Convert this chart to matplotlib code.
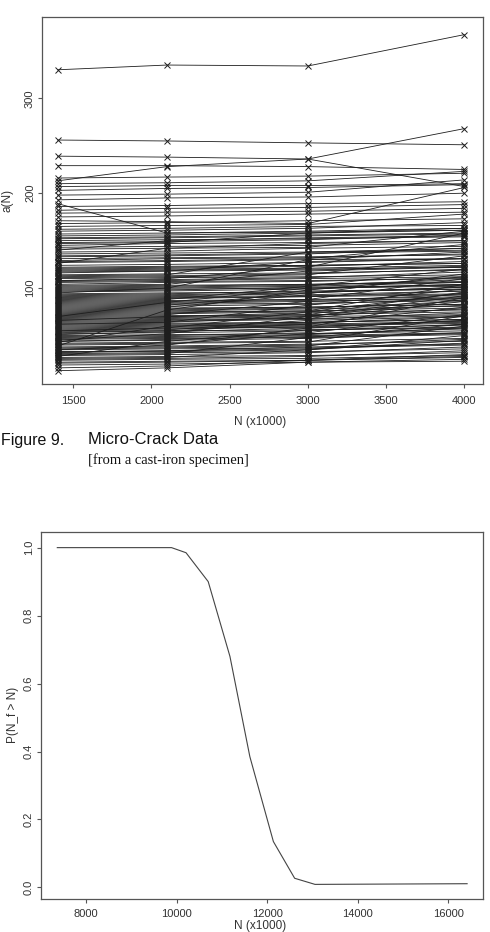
import matplotlib.pyplot as plt
import numpy as np

plt.rcParams['font.family'] = ['Liberation Sans', 'DejaVu Sans']

cycles = [1400, 2100, 3000, 4000]
a_1400 = [330, 256, 239, 229, 213, 216, 210, 207, 203, 198,
          193, 189, 186, 182, 179, 175, 171, 168, 165, 162,
          160, 157, 155, 152, 150, 148, 145, 140, 143, 138,
          136, 126, 133, 131, 129, 127, 124, 122, 120, 118,
          116, 114, 112, 110, 108, 106, 104, 102, 100, 98,
          96, 94, 92, 90, 88, 86, 84, 82, 80, 78,
          76, 74, 72, 70, 68, 66, 64, 62, 60, 58,
          56, 54, 52, 50, 48, 46, 44, 42, 39, 37,
          35, 33, 31, 29, 27, 25, 22, 19, 16, 13,
          30, 45, 55, 63, 35, 70, 81, 95, 108, 28,
          41, 57, 67, 73, 89, 101, 113, 119, 24, 33,
          47, 53, 61, 77, 85, 93, 99, 38, 43, 65,
          21, 26, 32, 36, 40, 44, 49, 51, 55, 59,
          62, 66, 69, 71, 75, 79, 83, 87, 91, 97,
          103, 107, 111, 117, 121, 128, 134, 141, 147, 153]
a_2100 = [335, 255, 238, 229, 228, 217, 211, 208, 205, 199,
          195, 158, 187, 184, 180, 176, 170, 169, 166, 163,
          161, 158, 156, 153, 151, 149, 147, 150, 144, 139,
          137, 142, 134, 132, 131, 128, 125, 123, 121, 119,
          118, 115, 113, 111, 109, 107, 106, 103, 101, 99,
          97, 95, 93, 91, 89, 87, 85, 83, 81, 79,
          77, 75, 73, 71, 69, 67, 65, 63, 61, 59,
          57, 55, 53, 51, 49, 47, 45, 43, 77, 38,
          36, 34, 32, 30, 28, 26, 23, 20, 18, 16,
          31, 52, 58, 64, 40, 85, 82, 100, 110, 44,
          42, 58, 68, 74, 90, 102, 114, 120, 25, 33,
          48, 55, 62, 78, 86, 94, 100, 39, 60, 66,
          22, 27, 34, 37, 41, 46, 50, 54, 56, 60,
          64, 70, 70, 72, 76, 80, 84, 88, 92, 98,
          104, 108, 112, 118, 122, 129, 135, 142, 148, 154]
a_3000 = [334, 253, 236, 228, 236, 218, 213, 208, 206, 201,
          196, 160, 189, 185, 181, 178, 168, 171, 167, 165,
          163, 159, 158, 155, 152, 151, 148, 153, 145, 142,
          138, 147, 136, 133, 132, 130, 127, 124, 123, 120,
          119, 116, 115, 112, 111, 108, 107, 104, 103, 100,
          99, 96, 95, 92, 91, 88, 87, 84, 83, 80,
          79, 76, 75, 72, 71, 68, 67, 64, 63, 60,
          59, 56, 55, 52, 51, 48, 47, 44, 98, 40,
          37, 36, 33, 32, 29, 28, 24, 22, 24, 22,
          48, 70, 75, 82, 58, 100, 95, 130, 122, 56,
          43, 59, 70, 76, 91, 104, 138, 121, 26, 35,
          50, 62, 64, 80, 88, 97, 102, 41, 62, 68,
          24, 35, 38, 39, 52, 49, 53, 58, 66, 61,
          70, 74, 72, 86, 78, 93, 86, 102, 94, 101,
          118, 110, 114, 128, 124, 131, 137, 143, 158, 156]
a_4000 = [367, 251, 268, 225, 207, 221, 223, 210, 209, 214,
          200, 163, 191, 188, 184, 180, 206, 173, 178, 166,
          169, 161, 163, 157, 154, 156, 150, 155, 148, 144,
          140, 150, 142, 135, 136, 131, 131, 126, 128, 122,
          123, 119, 120, 114, 117, 110, 111, 107, 109, 102,
          104, 99, 101, 94, 97, 91, 93, 87, 89, 83,
          86, 79, 82, 75, 78, 71, 74, 67, 70, 63,
          66, 59, 62, 55, 58, 51, 53, 47, 112, 46,
          40, 42, 36, 38, 32, 34, 27, 25, 28, 23,
          62, 88, 95, 99, 66, 104, 101, 138, 158, 58,
          71, 90, 72, 104, 93, 106, 142, 124, 29, 50,
          53, 80, 67, 83, 110, 99, 120, 44, 65, 86,
          30, 45, 41, 60, 57, 52, 72, 61, 70, 64,
          92, 77, 96, 90, 81, 97, 89, 106, 115, 103,
          122, 112, 134, 131, 126, 146, 139, 160, 161, 158]

# estimated survival curve P(N_f > N)
surv_N = [7366, 9890, 10210, 10700, 11180, 11620, 12140, 12610, 13060, 16420]
surv_p = [1.0, 1.0, 0.985, 0.90, 0.68, 0.385, 0.135, 0.027, 0.009, 0.011]

W, H = 490, 932
ink = '#1e1e1e'
fig = plt.figure(figsize=(W / 100, H / 100), dpi=100)


def style(ax, xpad, ypad):
    for s in ax.spines.values():
        s.set_color('#555555')
        s.set_linewidth(0.9)
    ax.tick_params(direction='out', length=3, width=0.8, color='#555555',
                   labelsize=8, labelcolor='#333333', top=False, right=False)
    ax.tick_params(axis='x', pad=xpad)
    ax.tick_params(axis='y', pad=ypad, labelrotation=90)
    for lbl in ax.get_yticklabels():
        lbl.set_va('center')


# top: micro-crack data
ax1 = fig.add_axes([42 / W, 1 - 384 / H, 441 / W, 367 / H])
crack = np.array([a_1400, a_2100, a_3000, a_4000])
ax1.plot(cycles, crack, color=ink, lw=0.6, marker='x', ms=4, mew=0.7)
ax1.set_xlim(1300, 4120)
ax1.set_ylim(-1, 385.6)
ax1.set_xticks([1500, 2000, 2500, 3000, 3500, 4000])
ax1.set_yticks([100, 200, 300])
style(ax1, 5.5, 2)

fig.text(260 / W, 1 - 422 / H, 'N (x1000)', ha='center', va='center',
         fontsize=8.5, color='#333333')
fig.text(8 / W, 1 - 200 / H, 'a(N)', ha='center', va='center', rotation=90,
         fontsize=8.5, color='#333333')

fig.text(1 / W, 1 - 440 / H, 'Figure 9.', ha='left', va='center',
         fontsize=11.5, color='#111111')
fig.text(88 / W, 1 - 440 / H, 'Micro-Crack Data', ha='left', va='center',
         fontsize=12, color='#111111')
fig.text(88 / W, 1 - 460 / H, '[from a cast-iron specimen]', ha='left',
         va='center', fontsize=10.5, family=['Liberation Serif'],
         color='#111111')

# bottom: survival function
ax2 = fig.add_axes([41 / W, 1 - 899 / H, 442 / W, 367 / H])
ax2.plot(surv_N, surv_p, color='#444444', lw=0.8)
ax2.set_xlim(7006, 16771)
ax2.set_ylim(-0.034, 1.046)
ax2.set_xticks([8000, 10000, 12000, 14000, 16000])
ax2.set_yticks([0, 0.2, 0.4, 0.6, 0.8, 1.0])
ax2.set_yticklabels(['0.0', '0.2', '0.4', '0.6', '0.8', '1.0'])
style(ax2, 4, 2)

fig.text(260 / W, 1 - 926 / H, 'N (x1000)', ha='center', va='center',
         fontsize=8.5, color='#333333')
fig.text(13 / W, 1 - 715 / H, 'P(N_f > N)', ha='center', va='center',
         rotation=90, fontsize=8.5, color='#333333')

fig.savefig('out.png', dpi=100)
